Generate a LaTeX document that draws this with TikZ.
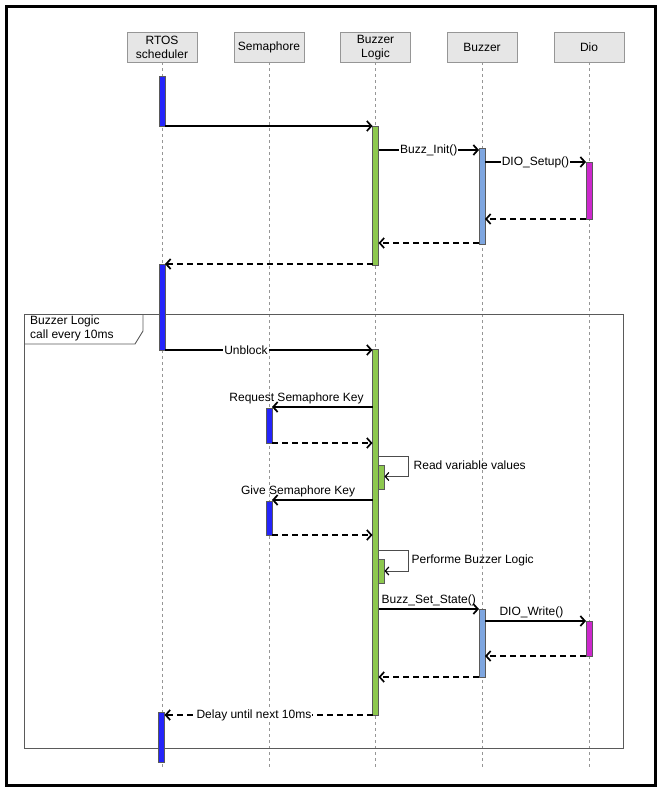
\documentclass[tikz,border=0pt]{standalone}
\usepackage{fontspec}
\setmainfont{Liberation Sans}
\usetikzlibrary{arrows.meta}

\definecolor{rtosblue}{RGB}{36,36,250}
\definecolor{logicgreen}{RGB}{141,200,78}
\definecolor{buzzblue}{RGB}{126,166,224}
\definecolor{diopink}{RGB}{204,40,204}
\definecolor{headfill}{RGB}{230,230,230}
\definecolor{headline}{RGB}{150,150,150}
\definecolor{actline}{RGB}{90,90,90}
\definecolor{framegray}{RGB}{90,90,90}

\begin{document}
\begin{tikzpicture}[x=1pt,y=-1pt,
  font=\fontsize{12}{14}\selectfont,
  head/.style={draw=headline, fill=headfill, minimum width=70pt, minimum height=30pt,
    inner sep=1pt, align=center, anchor=north},
  life/.style={draw=headline, line width=0.6pt, dash pattern=on 3pt off 3pt},
  act/.style={draw=actline, line width=0.8pt, minimum width=6pt, inner sep=0pt,
    outer sep=0pt, anchor=north},
  tip/.style={-{Straight Barb[length=4.5pt,width=10pt]}},
  msg/.style={line width=1.7pt, tip},
  ret/.style={line width=1.7pt, tip, dash pattern=on 6pt off 4pt},
  lbl/.style={fill=white, inner sep=1pt},
  selfline/.style={draw=black!70, line width=0.8pt,
    -{Straight Barb[length=3.5pt,width=8pt,color=black,line width=1.2pt]}},
  frame/.style={draw=framegray, line width=0.9pt}
]
\useasboundingbox (0,0) rectangle (662,792);
\draw[line width=3pt] (6.5,6.5) rectangle (655.5,785.5);

% participants
\node[head] (rtos)  at (162,32)   {RTOS\\scheduler};
\node[head] (sem)   at (269,32)   {Semaphore};
\node[head] (logic) at (375.5,32) {Buzzer\\Logic};
\node[head] (buzz)  at (482,32)   {Buzzer};
\node[head] (dio)   at (589,32)   {Dio};

% lifelines
\foreach \p in {rtos,sem,logic,buzz,dio}
  \draw[life] (\p.south) -- (\p.south |- 0,767);

% loop frame
\draw[frame] (24,314) rectangle (623,748);
\draw[frame] (24,344) -- (135,344) -- (143,331) -- (143,314);
\node[anchor=north west, align=left, inner sep=0pt] (looplbl) at (30,315.5)
  {Buzzer Logic\\call every 10ms};

% activations
\node[act, fill=rtosblue, minimum height=50pt]   (r1)  at (162,76)     {};
\node[act, fill=rtosblue, minimum height=86pt]   (r2)  at (162,264)    {};
\node[act, fill=rtosblue, minimum height=50pt]   (r3)  at (161.5,712.5){};
\node[act, fill=logicgreen, minimum height=139pt] (l1) at (375.5,126)  {};
\node[act, fill=logicgreen, minimum height=366pt] (l2) at (375.5,349)  {};
\node[act, fill=logicgreen, minimum height=23.5pt] (l3) at (381.5,465.5) {};
\node[act, fill=logicgreen, minimum height=24pt]   (l4) at (381.5,559)  {};
\node[act, fill=buzzblue, minimum height=96pt]   (b1)  at (482,148)    {};
\node[act, fill=buzzblue, minimum height=68pt]   (b2)  at (482,609)    {};
\node[act, fill=diopink, minimum height=57pt]    (d1)  at (589,162)    {};
\node[act, fill=diopink, minimum height=35pt]    (d2)  at (589,621)    {};
\node[act, fill=rtosblue, minimum height=35pt]   (s1)  at (269,408)    {};
\node[act, fill=rtosblue, minimum height=34pt]   (s2)  at (269,501)    {};

% start-up sequence
\draw[msg] (r1.south east) -- (l1.north west);
\draw[msg] (l1.east |- 0,150) -- node[lbl] {Buzz\_Init()} (b1.west |- 0,150);
\draw[msg] (b1.east |- d1.north) -- node[lbl] {DIO\_Setup()} (d1.north west);
\draw[ret] (d1.south west) -- (b1.east |- d1.south);
\draw[ret] (b1.west |- 0,243) -- (l1.east |- 0,243);
\draw[ret] (l1.west |- r2.north) -- (r2.north east);

% periodic sequence
\draw[msg] (r2.south east) -- node[lbl, pos=0.39] {Unblock} (l2.west |- r2.south);
\draw[msg] (l2.west |- 0,407) -- node[above=1.5pt, pos=0.756, inner sep=1pt] {Request Semaphore Key} (s1.east |- 0,407);
\draw[ret] (s1.south east) -- (l2.west |- s1.south);
\draw[selfline] (l2.east |- 0,456) -- (408.5,456) -- (408.5,476.5) -- (l3.east |- 0,476.5);
\node[anchor=west, inner sep=0pt] (rdlbl) at (413.5,465) {Read variable values};
\draw[msg] (l2.west |- 0,500) -- node[above=1.5pt, pos=0.74, inner sep=1pt] {Give Semaphore Key} (s2.east |- 0,500);
\draw[ret] (s2.south east) -- (l2.west |- s2.south);
\draw[selfline] (l2.east |- 0,550) -- (408.5,550) -- (408.5,571) -- (l4.east |- 0,571);
\node[anchor=west, inner sep=0pt] (pflbl) at (411.5,560) {Performe Buzzer Logic};
\draw[msg] (l2.east |- b2.north) -- node[above=1.5pt, pos=0.5, inner sep=1pt] {Buzz\_Set\_State()} (b2.north west);
\draw[msg] (b2.east |- d2.north) -- node[above=1.5pt, pos=0.46, inner sep=1pt] {DIO\_Write()} (d2.north west);
\draw[ret] (d2.south west) -- (b2.east |- d2.south);
\draw[ret] (b2.south west) -- (l2.east |- b2.south);
\draw[ret] (l2.south west) -- node[lbl, pos=0.57] {Delay until next 10ms} (r3.east |- l2.south);
\end{tikzpicture}
\end{document}
